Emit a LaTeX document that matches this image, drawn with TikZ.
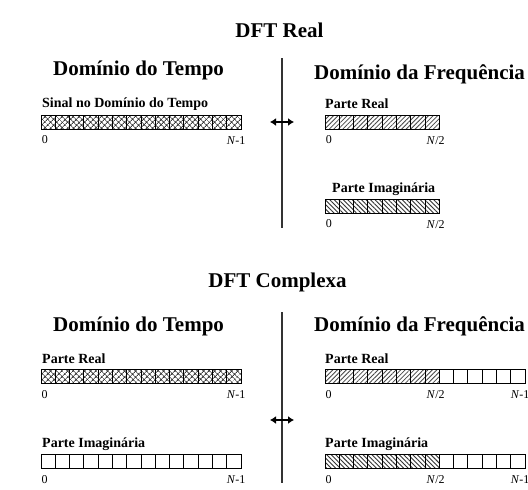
\documentclass[tikz,border=0pt]{standalone}
\usepackage{fontspec}
\setmainfont{Liberation Serif}
\usetikzlibrary{arrows.meta,patterns.meta,positioning}

\begin{document}
\begin{tikzpicture}
[x=1pt,y=-1pt,
  cellDecorate/.style={shape=rectangle,draw,line width=1pt,minimum width=14.29pt,minimum height=14pt,inner sep=0pt},
  crossCell/.style={cellDecorate,pattern={Hatch[angle=45,distance=4pt,line width=0.9pt]},pattern color=black!78},
  reCell/.style={cellDecorate,pattern={Lines[angle=45,distance=3.2pt,line width=0.8pt]},pattern color=black!72},
  imCell/.style={cellDecorate,pattern={Lines[angle=-45,distance=3.2pt,line width=0.9pt]},pattern color=black!80},
  titleDecorate/.style={font=\fontsize{21}{25}\selectfont\bfseries,inner sep=0pt,anchor=base},
  headDecorate/.style={font=\fontsize{21}{25}\selectfont\bfseries,inner sep=0pt,anchor=base west},
  partDecorate/.style={font=\fontsize{14}{16}\selectfont\bfseries,inner sep=0pt,anchor=base west},
  numDecorate/.style={font=\fontsize{12}{14}\selectfont,inner sep=0pt},
  sepDecorate/.style={line width=1.3pt,black!80},
  arrowDecorate/.style={{Latex[length=6pt,width=8pt]}-{Latex[length=6pt,width=8pt]},line width=2pt}]
\useasboundingbox[fill=white] (0,0) rectangle (528,490);

%% titles and headings
\node (titleReal) at (279.5,37) [titleDecorate] {DFT Real};
\node (titleCplx) at (277.5,287) [titleDecorate] {DFT Complexa};
\foreach \nodename/\x/\y/\txt in {
  timeHeadA/53/75/Domínio do Tempo,
  freqHeadA/314/79/Domínio da Frequência,
  timeHeadB/53/331/Domínio do Tempo,
  freqHeadB/314/331/Domínio da Frequência}
{
  \node (\nodename) at (\x,\y) [headDecorate] {\txt};
}
\foreach \nodename/\x/\y/\txt in {
  sinalA/42/107/Sinal no Domínio do Tempo,
  freqReA/325/108/Parte Real,
  freqImA/332/192/Parte Imaginária,
  timeReB/42/363/Parte Real,
  timeImB/42/447/Parte Imaginária,
  freqReB/325/363/Parte Real,
  freqImB/325/447/Parte Imaginária}
{
  \node (\nodename) at (\x,\y) [partDecorate] {\txt};
}

%% cells of the arrays
\foreach \i in {0,...,13}
{
  \node (tsA\i) at ({41+(\i+0.5)*14.29},122) [crossCell] {};
  \node (trB\i) at ({41+(\i+0.5)*14.29},376) [crossCell] {};
  \node (tiB\i) at ({41+(\i+0.5)*14.29},461) [cellDecorate] {};
}
\foreach \i in {0,...,7}
{
  \node (frA\i) at ({325+(\i+0.5)*14.29},122) [reCell] {};
  \node (fiA\i) at ({325+(\i+0.5)*14.29},206) [imCell] {};
  \node (frB\i) at ({325+(\i+0.5)*14.29},376) [reCell] {};
  \node (fiB\i) at ({325+(\i+0.5)*14.29},461) [imCell] {};
}
\foreach \i in {8,...,13}
{
  \node (frB\i) at ({325+(\i+0.5)*14.29},376) [cellDecorate] {};
  \node (fiB\i) at ({325+(\i+0.5)*14.29},461) [cellDecorate] {};
}

%% index labels
\foreach \cellname in {tsA,trB,tiB,frA,fiA,frB,fiB}
{
  \node (\cellname zero) at ([xshift=1pt,yshift=-14.5pt]\cellname0.south west) [numDecorate,anchor=base west] {0};
}
\foreach \cellname in {tsA,trB,tiB,frB,fiB}
{
  \node (\cellname last) at ([xshift=4pt,yshift=-14.5pt]\cellname13.south east) [numDecorate,anchor=base east] {\textit{N}-1};
}
\foreach \cellname in {frA,fiA,frB,fiB}
{
  \node (\cellname half) at ([xshift=5pt,yshift=-14.5pt]\cellname7.south east) [numDecorate,anchor=base east] {\textit{N}/2};
}

%% separators and arrows
\coordinate (sepTopA) at (282,58);
\coordinate (sepBotA) at (282,228);
\coordinate (sepTopB) at (282,312);
\coordinate (sepBotB) at (282,483);
\coordinate (arrLeftA) at (270,122);
\coordinate (arrRightA) at (294,122);
\coordinate (arrLeftB) at (270,420);
\coordinate (arrRightB) at (294,420);
\draw[sepDecorate] (sepTopA) -- (sepBotA);
\draw[sepDecorate] (sepTopB) -- (sepBotB);
\draw[arrowDecorate] (arrLeftA) -- (arrRightA);
\draw[arrowDecorate] (arrLeftB) -- (arrRightB);
\end{tikzpicture}
\end{document}
